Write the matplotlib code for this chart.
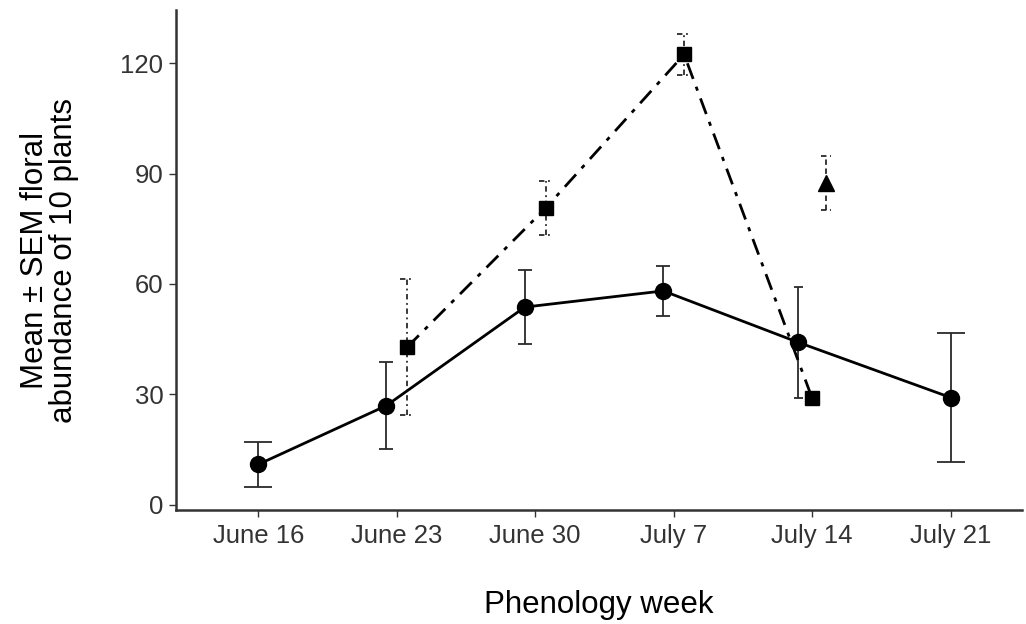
import matplotlib
matplotlib.use("Agg")
import matplotlib.pyplot as plt

plt.rcParams['font.family'] = ['Liberation Sans', 'DejaVu Sans']

weeks = ["June 16", "June 23", "June 30", "July 7", "July 14", "July 21"]

# mean +/- SEM per group, indexed by week position
circle_weeks = [0, 1, 2, 3, 4, 5]
circle_mean = [10.9, 26.9, 53.7, 58.1, 44.1, 29.1]
circle_sem = [6.2, 11.9, 10.0, 6.8, 15.1, 17.5]

square_weeks = [1, 2, 3, 4]
square_mean = [42.8, 80.6, 122.4, 28.9]
square_sem = [18.5, 7.4, 5.6, 0.0]

triangle_weeks = [4]
triangle_mean = [87.5]
triangle_sem = [7.4]

groups = [
    (circle_weeks, circle_mean, circle_sem, 'o', 11.5, '-', '-'),
    (square_weeks, square_mean, square_sem, 's', 10.5, (0, (6, 3, 1.5, 3)), (0, (3, 2, 1, 2))),
    (triangle_weeks, triangle_mean, triangle_sem, '^', 12, None, (0, (3, 2))),
]

dodge = 0.3
bar_width = 0.2

# how many groups share each week -> dodge offsets like position_dodge
counts = {}
for wk, _, _, *_ in groups:
    for w in wk:
        counts[w] = counts.get(w, 0) + 1
slot = {}

fig = plt.figure(figsize=(10.26, 6.24), dpi=100)
ax = fig.add_axes([0.1715, 0.182, 0.8246, 0.802])

for wk, mean, sem, marker, ms, ls, els in groups:
    xs = []
    for w in wk:
        n = counts[w]
        k = slot.get(w, 0)
        slot[w] = k + 1
        xs.append(w + 1 + (k - (n - 1) / 2) * dodge / n)
    for x, m, s, w in zip(xs, mean, sem, wk):
        if s > 0:
            half = bar_width / counts[w] / 2
            ax.vlines(x, m - s, m + s, colors='#2a2a2a', lw=1.3, linestyles=els, zorder=2)
            ax.hlines([m - s, m + s], x - half, x + half, colors='#2a2a2a', lw=1.3,
                      linestyles=els, zorder=2)
    if ls is not None and len(xs) > 1:
        ax.plot(xs, mean, color='black', lw=2.0, linestyle=ls, zorder=3)
    ax.plot(xs, mean, linestyle='none', marker=marker, ms=ms, color='black', zorder=4)

ax.set_xlim(0.406, 6.515)
ax.set_ylim(-1.6, 134.5)
ax.set_xticks(range(1, 7))
ax.set_xticklabels(weeks)
ax.set_yticks([0, 30, 60, 90, 120])

for side in ['top', 'right']:
    ax.spines[side].set_visible(False)
for side in ['left', 'bottom']:
    ax.spines[side].set_color('#333333')
    ax.spines[side].set_linewidth(1.8)

ax.tick_params(axis='both', colors='#333333', length=5, width=1.0,
               labelsize=18.5, labelcolor='#333333')
ax.tick_params(axis='x', pad=5)
ax.tick_params(axis='y', pad=4)

ax.set_xlabel("Phenology week", fontsize=22.5, labelpad=30)
ax.set_ylabel("Mean ± SEM floral\nabundance of 10 plants", fontsize=22.5,
              labelpad=30, linespacing=0.95)

fig.savefig("out.png", dpi=100)
